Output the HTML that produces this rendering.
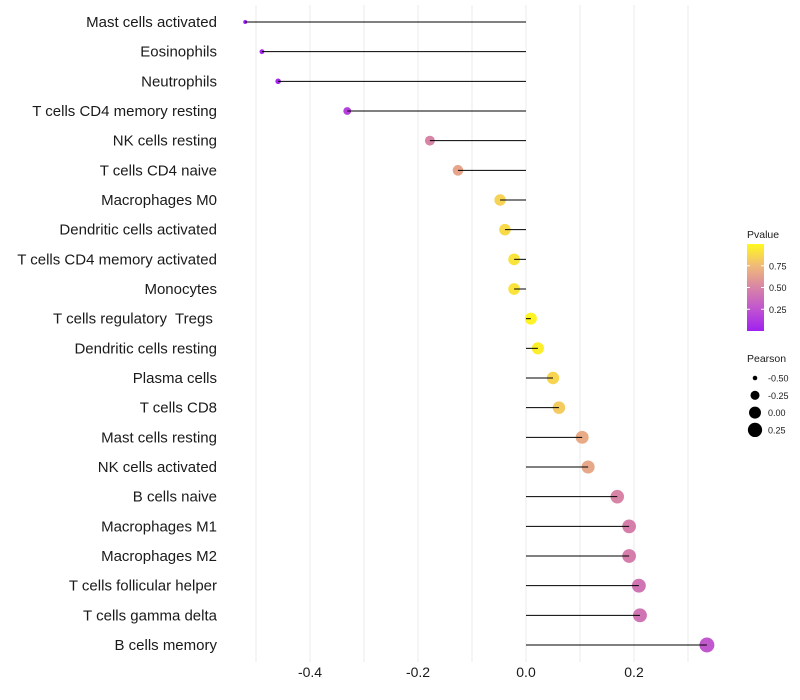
<!DOCTYPE html>
<html><head><meta charset="utf-8"><style>
body{margin:0;background:#fff;font-family:"Liberation Sans",sans-serif}
svg{display:block}
text{white-space:pre}
</style></head><body>
<svg id="chart" width="800" height="700"></svg>
<script>
const categories=["Mast cells activated","Eosinophils","Neutrophils","T cells CD4 memory resting","NK cells resting","T cells CD4 naive","Macrophages M0","Dendritic cells activated","T cells CD4 memory activated","Monocytes","T cells regulatory  Tregs ","Dendritic cells resting","Plasma cells","T cells CD8","Mast cells resting","NK cells activated","B cells naive","Macrophages M1","Macrophages M2","T cells follicular helper","T cells gamma delta","B cells memory"];
const pearson=[-0.520,-0.489,-0.459,-0.331,-0.178,-0.126,-0.048,-0.039,-0.022,-0.022,0.009,0.022,0.050,0.061,0.104,0.115,0.169,0.191,0.191,0.209,0.211,0.335];
const pvalue=[0.01,0.02,0.03,0.15,0.5,0.65,0.85,0.88,0.92,0.92,0.98,0.96,0.86,0.82,0.68,0.66,0.5,0.47,0.47,0.42,0.42,0.27];
const xTicks=[-0.4,-0.2,0.0,0.2];
const xTickLabels=["-0.4","-0.2","0.0","0.2"];
const gridMinor=[-0.5,-0.3,-0.1,0.1,0.3];
const pTicks=[0.25,0.5,0.75];
const sizeTicks=[-0.5,-0.25,0,0.25];

const NS="http://www.w3.org/2000/svg";
const svg=document.getElementById('chart');
function mk(t,a,p){const e=document.createElementNS(NS,t);for(const k in a)e.setAttribute(k,a[k]);(p||svg).appendChild(e);return e;}
const x=v=>526+540*v;
const y=i=>22+i*(623/21);
const rad=v=>Math.sqrt(Math.max(35.6+60.8*v,3));
const stops=[[0,[160,32,240]],[0.25,[192,84,208]],[0.5,[216,132,166]],[0.75,[240,186,120]],[1,[255,248,30]]];
function col(p){for(let i=1;i<stops.length;i++){if(p<=stops[i][0]){const a=stops[i-1],b=stops[i],t=(p-a[0])/(b[0]-a[0]);const c=a[1].map((v,j)=>Math.round(v+(b[1][j]-v)*t));return`rgb(${c})`;}}return'rgb(255,248,30)';}

const grid=mk('g',{});


gridMinor.concat(xTicks).forEach(v=>{const l=mk('line',{x1:x(v),x2:x(v),y1:5,y2:662,stroke:'#ebebeb','stroke-width':1},grid);
 
 });

categories.forEach((c,i)=>{
 const t=mk('text',{x:217,y:y(i)+5,'text-anchor':'end','font-size':15,fill:'#1a1a1a'});t.textContent=c;
 
 
 const pt=mk('circle',{cx:x(pearson[i]),cy:y(i),r:rad(pearson[i]),fill:col(pvalue[i])});
 
 
 const ln=mk('line',{x1:x(0),x2:x(pearson[i]),y1:y(i),y2:y(i),stroke:'#000','stroke-width':1});
 
 
});
xTicks.forEach((v,i)=>{const t=mk('text',{x:x(v),y:677,'text-anchor':'middle','font-size':14,fill:'#1a1a1a'});t.textContent=xTickLabels[i];
 
 });

const lt=mk('text',{x:747,y:238,'font-size':10.5,fill:'#1a1a1a'});lt.textContent='Pvalue';


const defs=mk('defs',{});const g=mk('linearGradient',{id:'pg',x1:0,y1:1,x2:0,y2:0},defs);
stops.forEach(s=>mk('stop',{offset:s[0],'stop-color':`rgb(${s[1]})`},g));
const pb=mk('rect',{x:747,y:244,width:17,height:87,fill:'url(#pg)'});


const py=p=>331-p*87;
pTicks.forEach(p=>{mk('line',{x1:747,x2:750,y1:py(p),y2:py(p),stroke:'#fff'});mk('line',{x1:761,x2:764,y1:py(p),y2:py(p),stroke:'#fff'});
 const t=mk('text',{x:769,y:py(p)+3.5,'font-size':9,fill:'#1a1a1a'});t.textContent=p.toFixed(2);
 
 });
const st=mk('text',{x:747,y:362,'font-size':10.5,fill:'#1a1a1a'});st.textContent='Pearson';


sizeTicks.forEach((v,i)=>{const cy=378+i*17.3;const c=mk('circle',{cx:755,cy:cy,r:rad(v),fill:'#000'});
 
 
 const t=mk('text',{x:768,y:cy+3.5,'font-size':9,fill:'#1a1a1a'});t.textContent=v.toFixed(2);
 
 });
</script>
</body></html>
